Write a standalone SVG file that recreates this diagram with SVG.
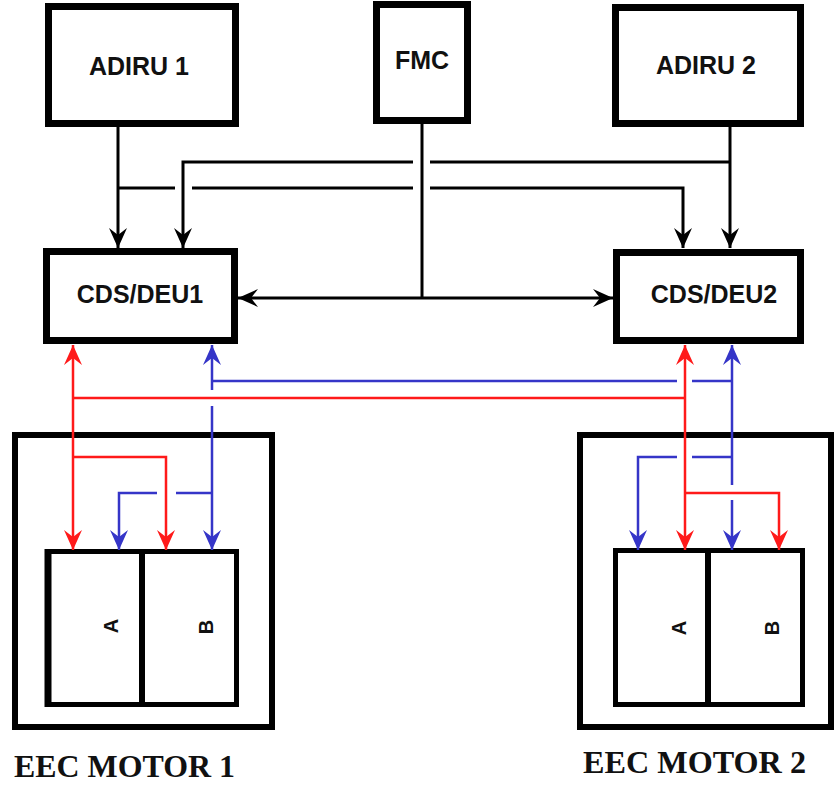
<svg xmlns="http://www.w3.org/2000/svg" width="834" height="785" viewBox="0 0 834 785">
<style>
.box{fill:#fff;stroke:#000;stroke-width:7}
.eec{fill:#fff;stroke:#000;stroke-width:6}
.inner{fill:#fff;stroke:#000;stroke-width:5}
.lbl{font-family:"Liberation Sans",Arial,sans-serif;font-weight:bold;font-size:25px;fill:#111;text-anchor:middle}
.ab{font-family:"Liberation Sans",Arial,sans-serif;font-weight:bold;font-size:20px;fill:#111;text-anchor:middle}
.cap{font-family:"Liberation Serif","Times New Roman",serif;font-weight:bold;font-size:32px;fill:#111}
.k{fill:none;stroke:#000;stroke-width:3}
.r{fill:none;stroke:#ff1a1a;stroke-width:2.5}
.b{fill:none;stroke:#3535c8;stroke-width:2.5}
</style>
<defs>
<marker id="ak" markerUnits="userSpaceOnUse" viewBox="-22 -11 24 22" refX="0" refY="0" markerWidth="24" markerHeight="22" orient="auto-start-reverse"><path d="M0,0 L-20,-9 L-13,0 L-20,9 Z" fill="#000"/></marker>
<marker id="ar" markerUnits="userSpaceOnUse" viewBox="-22 -11 24 22" refX="0" refY="0" markerWidth="24" markerHeight="22" orient="auto-start-reverse"><path d="M0,0 L-20,-9 L-13,0 L-20,9 Z" fill="#ff1a1a"/></marker>
<marker id="ab" markerUnits="userSpaceOnUse" viewBox="-22 -11 24 22" refX="0" refY="0" markerWidth="24" markerHeight="22" orient="auto-start-reverse"><path d="M0,0 L-20,-9 L-13,0 L-20,9 Z" fill="#3535c8"/></marker>
</defs>
<rect width="834" height="785" fill="#fff"/>

<g id="adiru1">
<rect class="box" x="48.5" y="6.5" width="187" height="117"/>
<text class="lbl" x="139" y="75">ADIRU 1</text>
</g>
<g id="fmc">
<rect class="box" x="376.5" y="4.5" width="91" height="116"/>
<text class="lbl" x="422" y="69">FMC</text>
</g>
<g id="adiru2">
<rect class="box" x="615.5" y="7.5" width="185" height="116"/>
<text class="lbl" x="706" y="74">ADIRU 2</text>
</g>
<g id="cdsdeu1">
<rect class="box" x="46.5" y="251.5" width="188" height="89"/>
<line x1="43" y1="341" x2="238" y2="341" stroke="#000" stroke-width="5"/>
<text class="lbl" x="140" y="303">CDS/DEU1</text>
</g>
<g id="cdsdeu2">
<rect class="box" x="616.5" y="252.5" width="184" height="88"/>
<line x1="613" y1="341" x2="804" y2="341" stroke="#000" stroke-width="5"/>
<text class="lbl" x="714" y="303">CDS/DEU2</text>
</g>

<g id="eec1">
<rect class="eec" x="15" y="435" width="257" height="292"/>
<rect class="inner" x="47.5" y="551.5" width="189" height="153"/>
<line x1="48" y1="549" x2="48" y2="707" stroke="#000" stroke-width="7"/>
<line x1="142" y1="551" x2="142" y2="705" stroke="#000" stroke-width="6"/>
<text class="ab" transform="translate(118,626) rotate(-90)">A</text>
<text class="ab" transform="translate(213,627) rotate(-90)">B</text>
<text class="cap" x="14" y="777" textLength="221" lengthAdjust="spacingAndGlyphs">EEC MOTOR 1</text>
</g>
<g id="eec2">
<rect class="eec" x="580" y="435" width="251" height="292"/>
<rect class="inner" x="615.5" y="550.5" width="187" height="154"/>
<line x1="708" y1="550" x2="708" y2="705" stroke="#000" stroke-width="6"/>
<text class="ab" transform="translate(686,628) rotate(-90)">A</text>
<text class="ab" transform="translate(779,628) rotate(-90)">B</text>
<text class="cap" x="583" y="773" textLength="223" lengthAdjust="spacingAndGlyphs">EEC MOTOR 2</text>
</g>

<g id="connectors">
<path class="k" d="M118,127 V248" marker-end="url(#ak)"/>
<path class="k" d="M118,188 H175 M192,188 H413 M430,188 H683 V248" marker-end="url(#ak)"/>
<path class="k" d="M730,127 V248" marker-end="url(#ak)"/>
<path class="k" d="M730,162 H430 M413,162 H183 V248" marker-end="url(#ak)"/>
<path class="k" d="M422,124 V298"/>
<path class="k" d="M238,298 H613" marker-start="url(#ak)" marker-end="url(#ak)"/>

<path class="r" d="M73,345 V550" marker-start="url(#ar)" marker-end="url(#ar)"/>
<path class="r" d="M73,398 H685"/>
<path class="r" d="M73,457 H166 V550" marker-end="url(#ar)"/>
<path class="b" d="M212,345 V390 M212,406 V550" marker-start="url(#ab)" marker-end="url(#ab)"/>
<path class="b" d="M212,381 H677 M692,381 H732"/>
<path class="b" d="M212,493 H176 M157,493 H119 V550" marker-end="url(#ab)"/>

<path class="r" d="M685,345 V550" marker-start="url(#ar)" marker-end="url(#ar)"/>
<path class="r" d="M685,493 H779 V550" marker-end="url(#ar)"/>
<path class="b" d="M732,345 V485 M732,500 V550" marker-start="url(#ab)" marker-end="url(#ab)"/>
<path class="b" d="M732,457 H692 M677,457 H638 V550" marker-end="url(#ab)"/>
</g>
</svg>
